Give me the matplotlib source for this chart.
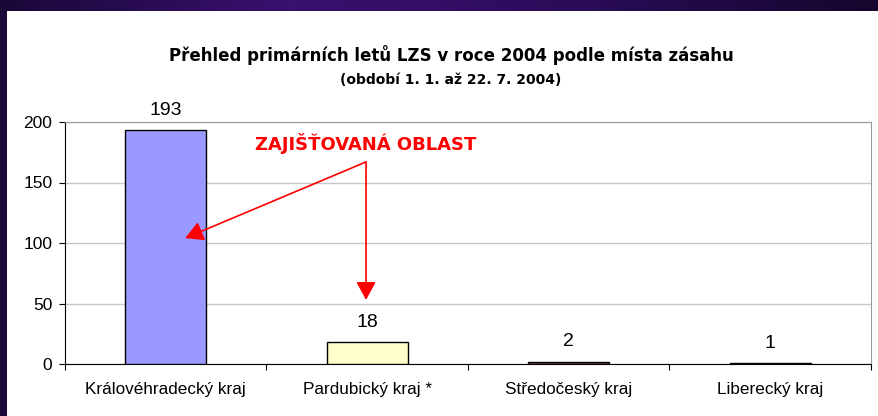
import matplotlib
matplotlib.use("Agg")
import matplotlib.pyplot as plt
from matplotlib.patches import Rectangle
from matplotlib.colors import LinearSegmentedColormap
import numpy as np

plt.rcParams['font.family'] = ['Liberation Sans', 'DejaVu Sans']

categories = ["Královéhradecký kraj", "Pardubický kraj *", "Středočeský kraj", "Liberecký kraj"]
values = [193, 18, 2, 1]
colors = ["#9999FF", "#FFFFCC", "#993366", "#000000"]
yticks = [0, 50, 100, 150, 200]

W, H = 879, 416
fig = plt.figure(figsize=(W/100, H/100), dpi=100)
fig.patch.set_facecolor("#1c0a3c")

bg = fig.add_axes([0, 0, 1, 1], zorder=-10)
grad = np.linspace(0, 1, 256)[None, :]
grad = np.vstack([grad, grad])
cmap = LinearSegmentedColormap.from_list("p", ["#1a0838", "#3a1070", "#2a0c58", "#14062c"])
bg.imshow(grad, aspect='auto', cmap=cmap, extent=[0, 1, 0, 1])
bg.axis('off')
bg.add_patch(Rectangle((7/W, 0), 1 - 7/W, 1 - 11/H, transform=bg.transAxes,
                       facecolor="white", edgecolor="none"))

left, right, top, bottom = 65, 871, 122, 364
ax = fig.add_axes([left/W, 1 - bottom/H, (right-left)/W, (bottom-top)/H])
x = np.arange(len(categories))
ax.bar(x, values, width=0.4, color=colors, edgecolor="black", linewidth=1.0, zorder=3)
ax.set_xlim(-0.5, len(categories) - 0.5)
ax.set_ylim(0, 200)
ax.set_yticks(yticks)
ax.set_yticklabels([str(v) for v in yticks], fontsize=12.5)
ax.set_xticks(np.arange(len(categories) + 1) - 0.5, minor=False)
ax.set_xticklabels([])
ax.set_xticks(x, minor=True)
ax.set_xticklabels(categories, minor=True, fontsize=12.3)
ax.tick_params(axis='x', which='minor', length=0, pad=13)
ax.tick_params(axis='x', which='major', length=4, direction='out', color='black')
ax.tick_params(axis='y', length=4, direction='out', color='black', pad=5)
ax.yaxis.grid(True, color="#c8c8c8", linewidth=1, zorder=0)
for s in ['top', 'right']:
    ax.spines[s].set_color("#999999")
for s in ['left', 'bottom']:
    ax.spines[s].set_color("black")

for xi, v in zip(x, values):
    ax.annotate(str(v), (xi, v), xytext=(0, 8), textcoords='offset points',
                ha='center', va='bottom', fontsize=14)

bold = ['DejaVu Sans']
ax.text(0.994, 182, "ZAJIŠŤOVANÁ OBLAST", color="#FF0000", fontsize=13,
        fontweight='bold', ha='center', va='center', family=bold)
origin = (0.994, 167)
for tip in [(0.096, 104), (0.994, 53)]:
    ax.annotate("", xy=tip, xytext=origin,
                arrowprops=dict(arrowstyle="-|>,head_length=1.1,head_width=0.6",
                                color="#FF0000", lw=1.2, shrinkA=0, shrinkB=0))

fig.text(451/W, 1 - 55/H, "Přehled primárních letů LZS v roce 2004 podle místa zásahu",
         ha='center', va='center', fontsize=12, fontweight='bold', family=bold)
fig.text(451/W, 1 - 80/H, "(období 1. 1. až 22. 7. 2004)",
         ha='center', va='center', fontsize=10, fontweight='bold', family=bold)

fig.savefig("out.png", dpi=100, facecolor=fig.get_facecolor())
